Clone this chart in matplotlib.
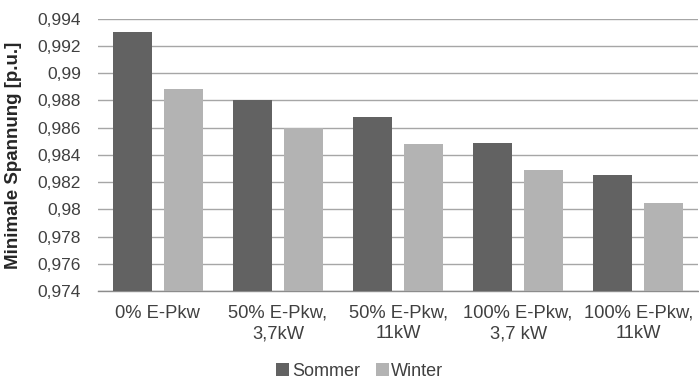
import matplotlib
matplotlib.use("Agg")
import matplotlib.pyplot as plt
import numpy as np

plt.rcParams["font.family"] = ["Liberation Sans", "DejaVu Sans"]

categories = ["0% E-Pkw", "50% E-Pkw,\n3,7kW", "50% E-Pkw,\n11kW",
              "100% E-Pkw,\n3,7 kW", "100% E-Pkw,\n11kW"]
sommer = [0.9930, 0.9880, 0.9868, 0.9849, 0.9825]
winter = [0.9888, 0.9860, 0.9848, 0.9829, 0.9805]
y_ticks = [0.974, 0.976, 0.978, 0.980, 0.982, 0.984, 0.986, 0.988, 0.990, 0.992, 0.994]
y_tick_labels = ["0,974", "0,976", "0,978", "0,98", "0,982", "0,984",
                 "0,986", "0,988", "0,99", "0,992", "0,994"]

DARK = "#626262"
LIGHT = "#b3b3b3"
TEXT = "#404040"

fig = plt.figure(figsize=(6.99, 3.81), dpi=100)
ax = fig.add_axes([0.140, 0.236, 0.859, 0.715])

x = np.arange(len(categories))
width = 0.325
offset = 0.2125
ax.bar(x - offset, sommer, width, color=DARK, label="Sommer", zorder=3)
ax.bar(x + offset, winter, width, color=LIGHT, label="Winter", zorder=3)

ax.set_xlim(-0.5, len(categories) - 0.5)
ax.set_ylim(y_ticks[0], y_ticks[-1])
ax.set_yticks(y_ticks)
ax.set_yticklabels(y_tick_labels, fontsize=12.5, color=TEXT)
ax.set_xticks(x)
ax.set_xticklabels(categories, fontsize=13.2, color=TEXT, linespacing=1.27,
                   multialignment="center")
ax.tick_params(axis="y", length=0, pad=12)
ax.tick_params(axis="x", length=0, pad=10)

ax.yaxis.grid(True, color="#a6a6a6", linewidth=1.0, zorder=0)
for side in ["top", "right", "left"]:
    ax.spines[side].set_visible(False)
ax.spines["bottom"].set_color("#8c8c8c")
ax.spines["bottom"].set_linewidth(1.0)

ax.set_ylabel("Minimale Spannung [p.u.]", fontsize=13.5, fontweight="bold", color="#262626")
ax.yaxis.set_label_coords(-0.127, 0.5)

fig.legend(loc="center", bbox_to_anchor=(0.515, 0.026), ncol=2, frameon=False,
           fontsize=13, handlelength=0.7, handleheight=0.7, handletextpad=0.15,
           columnspacing=0.9, labelcolor=TEXT)

fig.savefig("out.png", dpi=100)
